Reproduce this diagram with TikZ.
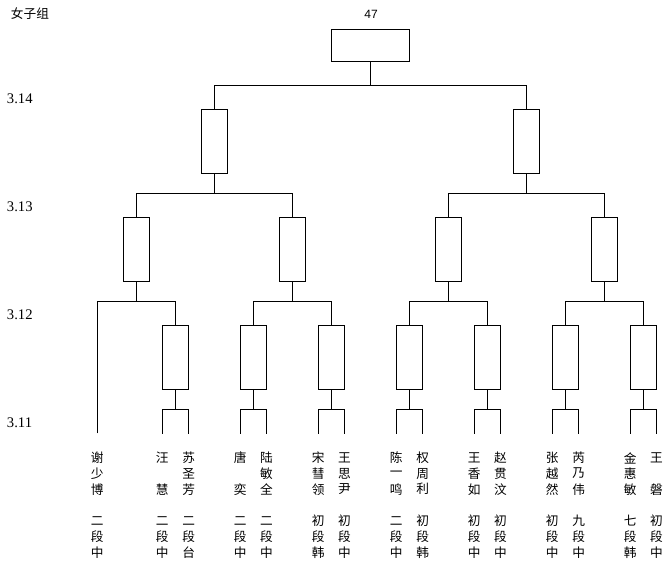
\documentclass[tikz,border=0pt]{standalone}
\usepackage{fontspec}
\setmainfont{Liberation Serif}
\newfontfamily\cjkfont{Noto Sans CJK SC}
\newfontfamily\arialfont{Liberation Sans}
\begin{document}
\begin{tikzpicture}[x=0.75pt,y=-0.75pt,line width=0.75pt,
  matchbox/.style={draw,line width=0.75pt,inner sep=0pt,minimum width=19.8pt,minimum height=48.2pt},
  finalbox/.style={draw,line width=0.75pt,inner sep=0pt,minimum width=58.5pt,minimum height=24.4pt},
  datelbl/.style={anchor=west,inner sep=0pt,font=\fontsize{11}{13}\selectfont},
  namech/.style={inner sep=0pt,font=\cjkfont\fontsize{9.5}{11}\selectfont},
  conn/.style={draw,line width=0.75pt}]
\useasboundingbox (0,0) rectangle (672,568);
\fill[white] (0,0) rectangle (672,568);

% titles and dates
\node[anchor=west,inner sep=0pt,font=\cjkfont\fontsize{9.5}{11}\selectfont] (title) at (10.5,13.5) {女子组};
\node[inner sep=0pt,font=\arialfont\fontsize{9}{11}\selectfont] (num) at (371,14) {47};
\node[datelbl] (d14) at (6.5,98.5) {3.14};
\node[datelbl] (d13) at (6.5,206.7) {3.13};
\node[datelbl] (d12) at (6.5,315) {3.12};
\node[datelbl] (d11) at (6.5,423) {3.11};

% boxes
\node[finalbox] (top) at (370.8,45.5) {};
\node[matchbox] (s1) at (214.5,141.5) {};
\node[matchbox] (s2) at (526.7,141.5) {};
\node[matchbox] (q1) at (136.4,249.3) {};
\node[matchbox] (q2) at (292.3,249.3) {};
\node[matchbox] (q3) at (448.5,249.3) {};
\node[matchbox] (q4) at (604.5,249.3) {};
\node[matchbox] (r2) at (175.5,357.3) {};
\node[matchbox] (r3) at (253.3,357.3) {};
\node[matchbox] (r4) at (331.3,357.3) {};
\node[matchbox] (r5) at (409.5,357.3) {};
\node[matchbox] (r6) at (487.3,357.3) {};
\node[matchbox] (r7) at (565.5,357.3) {};
\node[matchbox] (r8) at (643.3,357.3) {};

% junctions
\coordinate (jt) at (370.8,85.3);
\coordinate (js1) at (214.5,193.3);
\coordinate (js2) at (526.7,193.3);
\coordinate (jq1) at (136.4,301.7);
\coordinate (jq2) at (292.3,301.7);
\coordinate (jq3) at (448.5,301.7);
\coordinate (jq4) at (604.5,301.7);
\coordinate (leaf1) at (97.3,433.3);

\draw[conn] (top.south) -- (jt);
\draw[conn] (s1.north) |- (jt) -| (s2.north);
\draw[conn] (s1.south) -- (js1);
\draw[conn] (q1.north) |- (js1) -| (q2.north);
\draw[conn] (s2.south) -- (js2);
\draw[conn] (q3.north) |- (js2) -| (q4.north);
\draw[conn] (q1.south) -- (jq1);
\draw[conn] (leaf1) |- (jq1) -| (r2.north);
\draw[conn] (q2.south) -- (jq2);
\draw[conn] (r3.north) |- (jq2) -| (r4.north);
\draw[conn] (q3.south) -- (jq3);
\draw[conn] (r5.north) |- (jq3) -| (r6.north);
\draw[conn] (q4.south) -- (jq4);
\draw[conn] (r7.north) |- (jq4) -| (r8.north);

\foreach \b in {r2,r3,r4,r5,r6,r7,r8}{
  \coordinate (\b-j) at ([yshift=-15pt]\b.south);
  \coordinate (\b-l) at ([xshift=-9.9pt,yshift=-33pt]\b.south);
  \coordinate (\b-r) at ([xshift=9.9pt,yshift=-33pt]\b.south);
  \draw[conn] (\b.south) -- (\b-j);
  \draw[conn] (\b-l) |- (\b-j) -| (\b-r);
}

% player names and ranks
\foreach \x/\a/\b/\c/\d/\e/\f [count=\k] in {
  97.3/谢/少/博/二/段/中,
  162.3/汪/{}/慧/二/段/中,
  188.7/苏/圣/芳/二/段/台,
  240.1/唐/{}/奕/二/段/中,
  266.5/陆/敏/全/二/段/中,
  318.1/宋/彗/领/初/段/韩,
  344.5/王/思/尹/初/段/中,
  396.3/陈/一/鸣/二/段/中,
  422.7/权/周/利/初/段/韩,
  474.1/王/香/如/初/段/中,
  500.5/赵/贯/汶/初/段/中,
  552.3/张/越/然/初/段/中,
  578.7/芮/乃/伟/九/段/中,
  630.1/金/惠/敏/七/段/韩,
  656.5/王/{}/磐/初/段/中}{
  \node[namech] (p\k-1) at (\x,458) {\a};
  \node[namech] (p\k-2) at (\x,473.6) {\b};
  \node[namech] (p\k-3) at (\x,489.2) {\c};
  \node[namech] (p\k-4) at (\x,520.6) {\d};
  \node[namech] (p\k-5) at (\x,536.6) {\e};
  \node[namech] (p\k-6) at (\x,552.4) {\f};
}
\end{tikzpicture}
\end{document}
